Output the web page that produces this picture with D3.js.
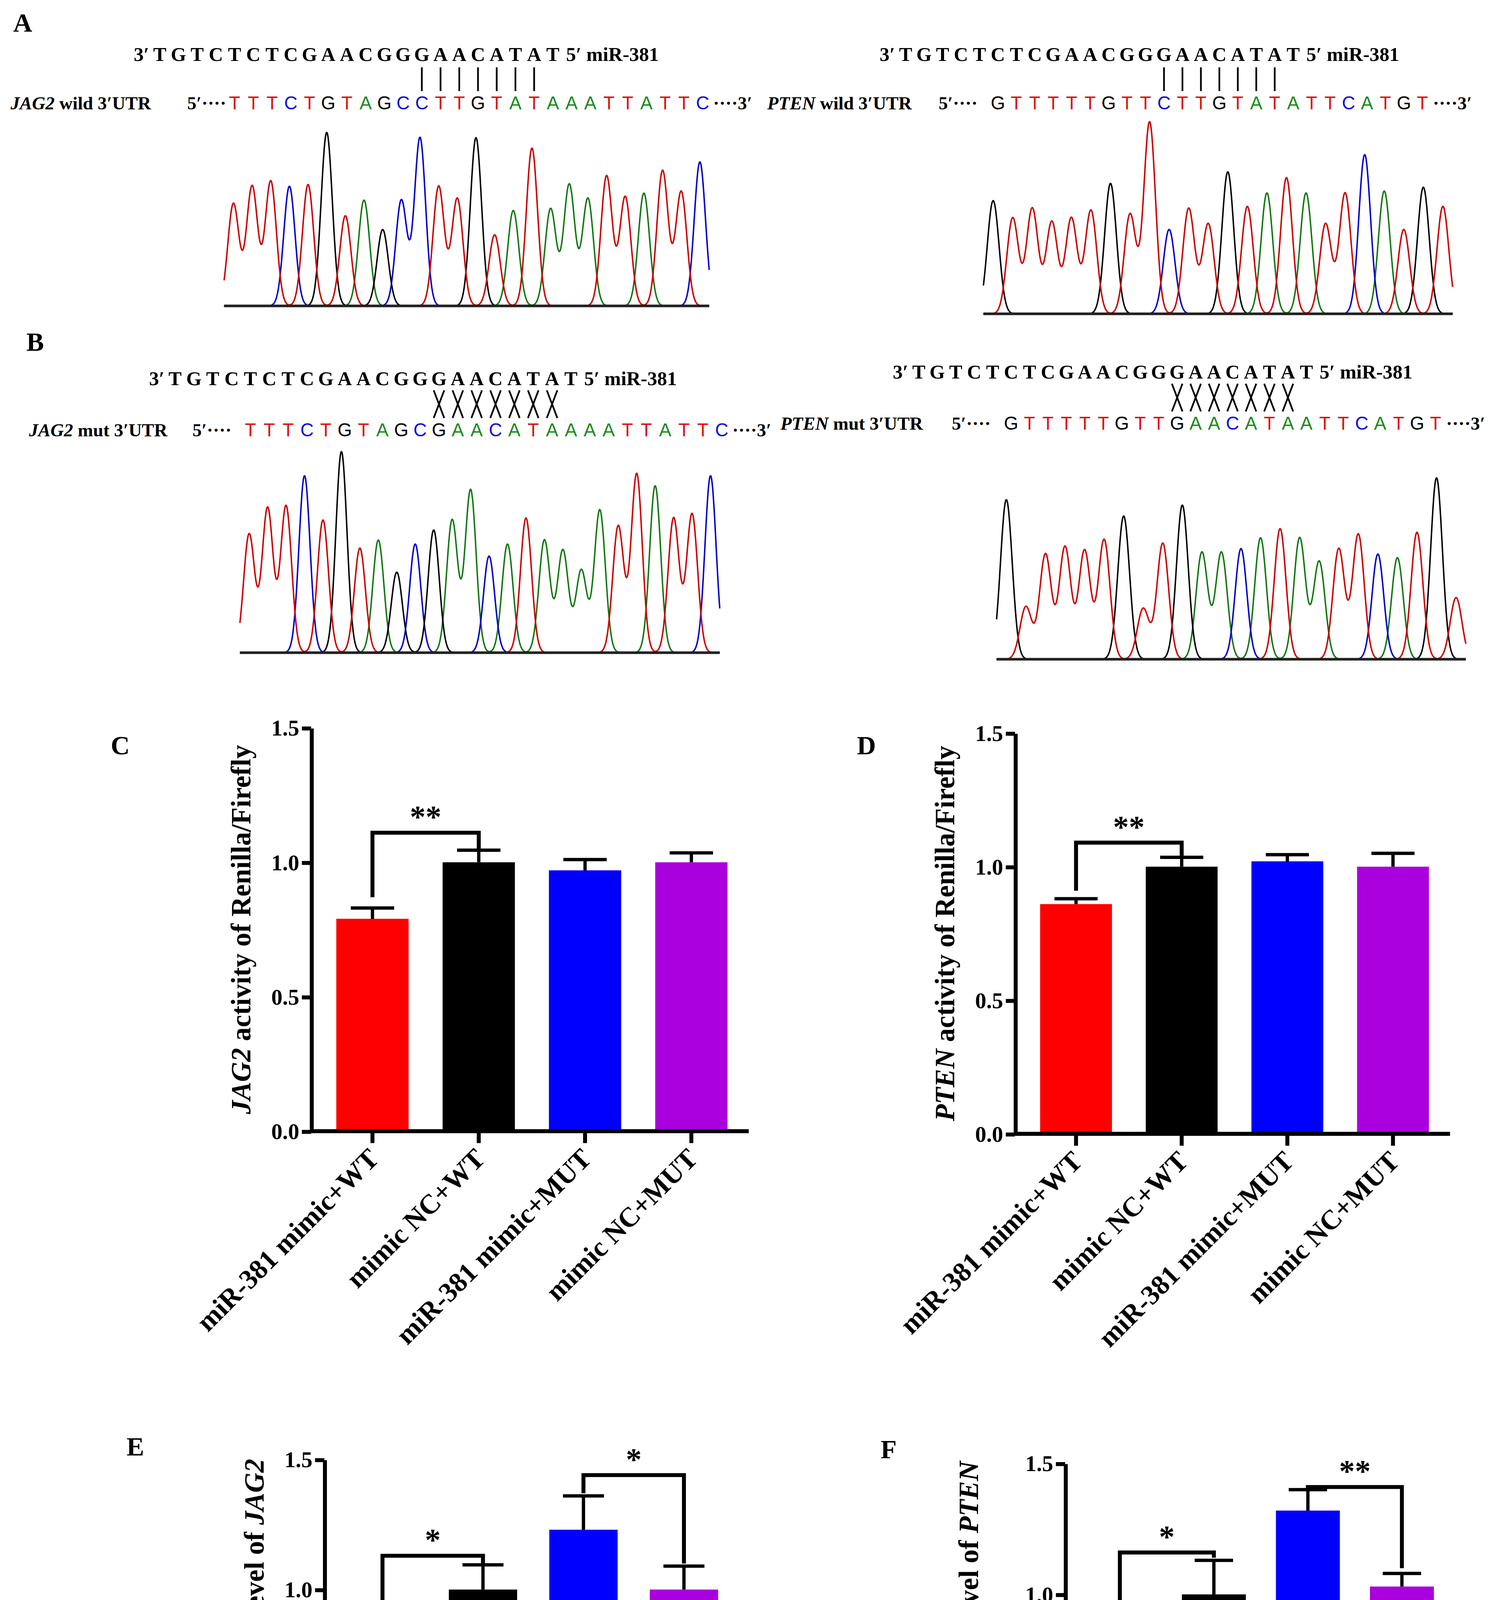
<!DOCTYPE html>
<html><head><meta charset="utf-8">
<script src="https://cdn.jsdelivr.net/npm/d3@7"></script>
<style>body{margin:0;background:#fff}</style></head>
<body><div id="fig"></div>
<script>
// sequences and peak heights
const mirSeq = "TGTCTCTCGAACGGGAACATAT";
const jagWildSeq = "TTTCTGTAGCCTTGTATAAATTATTC";
const jagWildPeaks = [.59,.69,.72,.69,.70,1,.52,.61,.44,.61,.97,.69,.62,.97,.41,.55,.91,.56,.70,.62,.75,.63,.65,.78,.66,.83];
const ptenWildSeq = "GTTTTTGTTCTTGTATATTCATGT";
const ptenWildPeaks = [.59,.50,.55,.48,.50,.54,.68,.52,1,.44,.55,.47,.74,.56,.63,.71,.63,.47,.63,.83,.64,.44,.66,.56];
const jagMutSeq = "TTTCTGTAGCGAACATAAAATTATTC";
const jagMutPeaks = [.59,.72,.73,.88,.66,1,.52,.56,.40,.54,.61,.66,.81,.48,.54,.67,.56,.51,.41,.71,.63,.89,.83,.67,.69,.88];
const ptenMutSeq = "GTTTTTGTTGAACATAATTCATGT";
const ptenMutPeaks = [.88,.29,.58,.62,.60,.66,.79,.28,.64,.85,.59,.59,.61,.67,.72,.67,.54,.61,.69,.58,.56,.70,1,.34];

// bar charts
const groupsCD = ["miR-381 mimic+WT","mimic NC+WT","miR-381 mimic+MUT","mimic NC+MUT"];
const groupsEF = ["miR-381 mimic","mimic NC","miR-381 inhibitor","inhibitor NC"];
const barColors = ["#ff0000","#000000","#0000ff","#aa00dd"];
const valC = [0.79,1.00,0.97,1.00], errC = [0.04,0.045,0.04,0.035];
const valD = [0.86,1.00,1.02,1.00], errD = [0.02,0.035,0.025,0.05];
const valE = [0.82,1.00,1.23,1.00], errE = [0.05,0.095,0.13,0.09];
const valF = [0.64,1.00,1.32,1.03], errF = [0.08,0.13,0.08,0.05];
const yTicks = [0.0,0.5,1.0,1.5];

const baseColor = {A:"#1a8a1a",C:"#1010dd",G:"#000000",T:"#dd1010"};
const traceColor = {A:"#117711",C:"#0000cc",G:"#000000",T:"#cc0000"};
const serif = "'Liberation Serif','DejaVu Serif',serif";
const sans = "'Liberation Sans','DejaVu Sans',sans-serif";

const svg = d3.select("#fig").append("svg")
  .attr("width",3871).attr("height",5289)
  .attr("viewBox","0 0 1147 1567");

function panelLetter(t,x,y){
  svg.append("text").attr("x",x).attr("y",y).text(t)
    .attr("font-family",serif).attr("font-weight","bold").attr("font-size",20);
}

function seqPanel(o){
  const g = svg.append("g");
  const sp = o.spacing;
  // target line
  g.append("text").attr("x",o.labelX).attr("y",o.tY)
    .attr("font-family",serif).attr("font-weight","bold").attr("font-size",14)
    .call(t=>{t.append("tspan").attr("font-style","italic").text(o.gene);
              t.append("tspan").text(" "+o.kind+" 3′UTR");});
  g.append("text").attr("x",o.fiveX).attr("y",o.tY).text("5′····")
    .attr("font-family",serif).attr("font-weight","bold").attr("font-size",14);
  g.selectAll("text.b").data(o.seq.split("")).join("text")
    .attr("x",(d,i)=>o.sx+i*sp).attr("y",o.tY).attr("text-anchor","middle")
    .attr("fill",d=>baseColor[d]).attr("font-family",sans).attr("font-size",14).text(d=>d);
  g.append("text").attr("x",o.sx+(o.seq.length-1)*sp+8).attr("y",o.tY).text("····3′")
    .attr("font-family",serif).attr("font-weight","bold").attr("font-size",14);
  // miR line
  const mx = j=>o.sx+(j-o.offset)*sp;
  g.append("text").attr("x",mx(0)-8).attr("y",o.mY).attr("text-anchor","end").text("3′")
    .attr("font-family",serif).attr("font-weight","bold").attr("font-size",15);
  g.selectAll("text.m").data(mirSeq.split("")).join("text")
    .attr("x",(d,j)=>mx(j)).attr("y",o.mY).attr("text-anchor","middle")
    .attr("font-family",serif).attr("font-weight","bold").attr("font-size",15).text(d=>d);
  g.append("text").attr("x",mx(mirSeq.length-1)+10).attr("y",o.mY).text("5′ miR-381")
    .attr("font-family",serif).attr("font-weight","bold").attr("font-size",15);
  // pairing marks
  const idx = d3.range(14,21);
  const y1 = o.mY+4, y2 = o.tY-14;
  if(o.kind==="wild"){
    g.selectAll("line.p").data(idx).join("line")
      .attr("x1",j=>mx(j)).attr("x2",j=>mx(j)).attr("y1",y1+1).attr("y2",y2)
      .attr("stroke","#000").attr("stroke-width",1.3);
  } else {
    g.selectAll("path.x").data(idx).join("path")
      .attr("d",j=>`M${mx(j)-4},${y1}L${mx(j)+4},${y2}M${mx(j)+4},${y1}L${mx(j)-4},${y2}`)
      .attr("stroke","#000").attr("stroke-width",1.3).attr("fill","none");
  }
  // chromatogram
  const n = o.seq.length;
  const x = d3.scaleLinear().domain([-0.5,n-0.5]).range([o.tx0,o.tx1]);
  const y = d3.scaleLinear().domain([0,1]).range([o.tyBase,o.tyTop]);
  const sig = 0.3;
  const xs = d3.range(-0.5,n-0.5+0.001,0.04);
  const line = d3.line().x(d=>x(d[0])).y(d=>y(d[1])).curve(d3.curveBasis);
  ["A","C","G","T"].forEach(b=>{
    const pts = xs.map(t=>{
      let v = 0;
      o.seq.split("").forEach((c,i)=>{ if(c===b) v += o.peaks[i]*Math.exp(-((t-i)**2)/(2*sig*sig)); });
      return [t,Math.min(v,1)];
    });
    g.append("path").attr("d",line(pts)).attr("fill","none")
      .attr("stroke",traceColor[b]).attr("stroke-width",1.1);
  });
  g.append("line").attr("x1",o.tx0).attr("x2",o.tx1).attr("y1",o.tyBase).attr("y2",o.tyBase)
    .attr("stroke","#222").attr("stroke-width",2);
}

panelLetter("A",10,24);
seqPanel({gene:"JAG2",kind:"wild",seq:jagWildSeq,peaks:jagWildPeaks,labelX:8,fiveX:142,sx:178,spacing:14.2,offset:4,
  mY:46,tY:83,tx0:170,tx1:538,tyTop:100,tyBase:232});
seqPanel({gene:"PTEN",kind:"wild",seq:ptenWildSeq,peaks:ptenWildPeaks,labelX:582,fiveX:712,sx:757,spacing:14.0,offset:5,
  mY:46,tY:83,tx0:746,tx1:1102,tyTop:92,tyBase:238});
panelLetter("B",20,266);
seqPanel({gene:"JAG2",kind:"mut",seq:jagMutSeq,peaks:jagMutPeaks,labelX:22,fiveX:146,sx:190,spacing:14.3,offset:4,
  mY:292,tY:331,tx0:182,tx1:546,tyTop:342,tyBase:495});
seqPanel({gene:"PTEN",kind:"mut",seq:ptenMutSeq,peaks:ptenMutPeaks,labelX:592,fiveX:722,sx:767,spacing:14.0,offset:5,
  mY:287,tY:326,tx0:756,tx1:1112,tyTop:362,tyBase:500});

function barPanel(o){
  const g = svg.append("g");
  const y = d3.scaleLinear().domain([0,1.5]).range([o.y0,o.y1]);
  const x = d3.scaleBand().domain(o.groups).range([o.ax+3,o.ax2]).paddingInner(0.32).paddingOuter(0.2);
  g.selectAll("rect").data(o.vals).join("rect")
    .attr("x",(d,i)=>x(o.groups[i])).attr("width",x.bandwidth())
    .attr("y",d=>y(d)).attr("height",d=>y(0)-y(d)).attr("fill",(d,i)=>barColors[i]);
  const cx = i=>x(o.groups[i])+x.bandwidth()/2;
  o.vals.forEach((v,i)=>{
    g.append("line").attr("x1",cx(i)).attr("x2",cx(i)).attr("y1",y(v)).attr("y2",y(v+o.errs[i]))
      .attr("stroke","#000").attr("stroke-width",2.5);
    g.append("line").attr("x1",cx(i)-x.bandwidth()*0.3).attr("x2",cx(i)+x.bandwidth()*0.3)
      .attr("y1",y(v+o.errs[i])).attr("y2",y(v+o.errs[i])).attr("stroke","#000").attr("stroke-width",2.5);
  });
  const ya = g.append("g").attr("transform",`translate(${o.ax},0)`)
    .call(d3.axisLeft(y).tickValues(yTicks).tickFormat(d3.format(".1f")).tickSize(7).tickSizeOuter(0));
  const xa = g.append("g").attr("transform",`translate(0,${o.y0})`)
    .call(d3.axisBottom(x).tickSize(9).tickSizeOuter(0));
  [ya,xa].forEach(a=>{
    a.select(".domain").attr("stroke","#000").attr("stroke-width",3);
    a.selectAll(".tick line").attr("stroke","#000").attr("stroke-width",3);
    a.selectAll("text").attr("font-family",serif).attr("font-weight","bold").attr("fill","#000");
  });
  xa.select(".domain").attr("d",`M${o.ax},0H${o.ax2}`);
  ya.selectAll("text").attr("font-size",17).attr("x",-9);
  xa.selectAll("text").attr("font-size",21).attr("text-anchor","end")
    .attr("dy",0).attr("y",0).attr("transform","translate(6,22) rotate(-45)");
  // y label
  g.append("text").attr("transform",`translate(${o.ax-o.labOff},${(o.y0+o.y1)/2}) rotate(-90)`)
    .attr("text-anchor","middle").attr("font-family",serif).attr("font-weight","bold").attr("font-size",21)
    .call(t=>{ o.ylab.forEach(p=>t.append("tspan").attr("font-style",p[1]?"italic":"normal").text(p[0])); });
  // significance brackets
  o.sig.forEach(s=>{
    const [a,b,ly,la,lb,txt] = s;
    g.append("path").attr("d",`M${cx(a)},${y(la)}V${y(ly)}H${cx(b)}V${y(lb)}`)
      .attr("fill","none").attr("stroke","#000").attr("stroke-width",3);
    g.append("text").attr("x",(cx(a)+cx(b))/2).attr("y",y(ly)-4).attr("text-anchor","middle")
      .attr("font-family",serif).attr("font-weight","bold").attr("font-size",24).text(txt);
  });
}

panelLetter("C",84,572);
barPanel({groups:groupsCD,vals:valC,errs:errC,ax:236,ax2:568,y0:858,y1:552,labOff:46,
  ylab:[["JAG2",1],[" activity of Renilla/Firefly",0]],sig:[[0,1,1.11,0.87,1.05,"**"]]});
panelLetter("D",650,572);
barPanel({groups:groupsCD,vals:valD,errs:errD,ax:770,ax2:1100,y0:860,y1:556,labOff:46,
  ylab:[["PTEN",1],[" activity of Renilla/Firefly",0]],sig:[[0,1,1.09,0.91,1.04,"**"]]});
panelLetter("E",96,1104);
barPanel({groups:groupsEF,vals:valE,errs:errE,ax:246,ax2:560,y0:1403,y1:1107,labOff:46,
  ylab:[["Relative expression level of ",0],["JAG2",1]],sig:[[0,1,1.13,0.9,1.1,"*"],[2,3,1.44,1.37,1.1,"*"]]});
panelLetter("F",668,1106);
barPanel({groups:groupsEF,vals:valF,errs:errF,ax:808,ax2:1102,y0:1408,y1:1110,labOff:66,
  ylab:[["Relative expression level of ",0],["PTEN",1]],sig:[[0,1,1.16,0.75,1.14,"*"],[2,3,1.41,1.40,1.1,"**"]]});
</script></body></html>
